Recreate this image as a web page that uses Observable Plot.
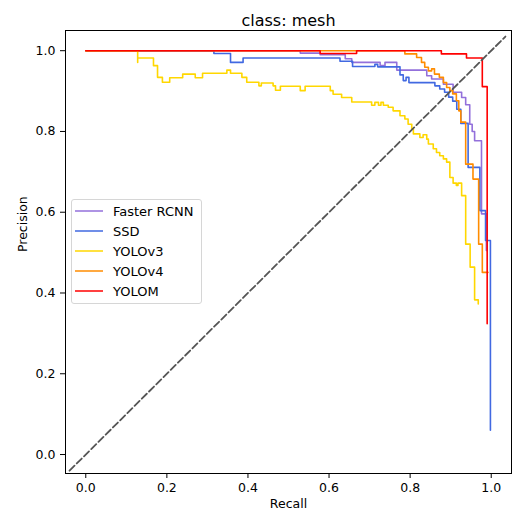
<!DOCTYPE html>
<html><head><meta charset="utf-8">
<script src="https://cdn.jsdelivr.net/npm/d3@7"></script>
<script src="https://cdn.jsdelivr.net/npm/@observablehq/plot@0.6"></script>
<style>
body{margin:0;background:#fff;}
#wrap{position:relative;width:512px;height:515px;font-family:"DejaVu Sans",sans-serif;}
#legend{position:absolute;left:71px;top:199px;width:131px;height:105px;border:1px solid #d6d6d6;border-radius:3px;background:rgba(255,255,255,0.8);box-sizing:border-box;padding-top:1px;}
.row{height:20px;display:flex;align-items:center;font-size:13px;color:#000;white-space:nowrap;}
.row svg{margin-left:3px;margin-right:10px;}
</style></head>
<body><div id="wrap"></div>
<script>
const names = ["Faster RCNN","SSD","YOLOv3","YOLOv4","YOLOM"];
const colors = ["#9370DB","#4169E1","#FFD700","#FF8C00","#FF0000"];
const xTicks = [0,0.2,0.4,0.6,0.8,1.0];
const yTicks = [0,0.2,0.4,0.6,0.8,1.0];
const diag = [-0.04, 1.035];

const fasterRcnn = [[0,1],[0.529,0.994],[0.578,0.99],[0.64,0.98],[0.656,0.971],[0.726,0.963],[0.738,0.971],[0.767,0.952],[0.841,0.938],[0.853,0.93],[0.882,0.917],[0.906,0.897],[0.927,0.884],[0.937,0.866],[0.947,0.818],[0.953,0.80],[0.959,0.777],[0.976,0.596],[0.988,0.505]];
const ssd = [[0,1],[0.316,0.993],[0.357,0.971],[0.388,0.982],[0.627,0.974],[0.658,0.961],[0.713,0.966],[0.72,0.96],[0.775,0.94],[0.783,0.926],[0.79,0.934],[0.797,0.921],[0.861,0.913],[0.873,0.905],[0.885,0.897],[0.895,0.885],[0.905,0.875],[0.915,0.855],[0.925,0.82],[0.943,0.773],[0.943,0.711],[0.972,0.604],[0.986,0.53],[0.998,0.06]];
const yolov3 = [[0,1],[0.128,0.971],[0.128,0.982],[0.167,0.963],[0.177,0.934],[0.189,0.922],[0.207,0.933],[0.239,0.942],[0.27,0.933],[0.288,0.944],[0.348,0.952],[0.357,0.944],[0.385,0.934],[0.397,0.922],[0.427,0.913],[0.433,0.92],[0.462,0.913],[0.468,0.902],[0.48,0.912],[0.529,0.901],[0.541,0.912],[0.603,0.901],[0.61,0.892],[0.631,0.884],[0.656,0.873],[0.705,0.865],[0.713,0.872],[0.722,0.865],[0.728,0.872],[0.734,0.865],[0.746,0.86],[0.758,0.851],[0.775,0.839],[0.787,0.831],[0.795,0.818],[0.804,0.806],[0.808,0.794],[0.824,0.785],[0.832,0.792],[0.841,0.781],[0.845,0.769],[0.857,0.757],[0.865,0.748],[0.873,0.74],[0.882,0.732],[0.89,0.724],[0.898,0.686],[0.906,0.672],[0.914,0.666],[0.918,0.672],[0.927,0.641],[0.937,0.521],[0.948,0.464],[0.959,0.383],[0.968,0.373]];
const yolov4 = [[0,1],[0.787,0.992],[0.816,0.983],[0.828,0.971],[0.836,0.959],[0.845,0.95],[0.853,0.955],[0.86,0.942],[0.872,0.934],[0.882,0.921],[0.89,0.909],[0.898,0.901],[0.905,0.893],[0.914,0.876],[0.92,0.851],[0.925,0.823],[0.937,0.719],[0.955,0.682],[0.969,0.521],[0.978,0.451],[0.992,0.451]];
const yolom = [[0,1],[0.578,0.993],[0.668,1.0],[0.877,0.992],[0.939,0.982],[0.978,0.911],[0.99,0.324]];

const seriesList = [fasterRcnn, ssd, yolov3, yolov4, yolom];
const rows = seriesList.flatMap((s, i) => s.map(([r, p]) => ({name: names[i], r, p})));

const chart = Plot.plot({
  width: 512, height: 515,
  marginTop: 30, marginBottom: 42, marginLeft: 65, marginRight: 1,
  style: {fontFamily: "DejaVu Sans", fontSize: "12.5px", color: "#000", background: "white", overflow: "visible"},
  x: {domain: [-0.05, 1.05], ticks: xTicks, tickFormat: ".1f", tickSize: 5, tickPadding: 5, label: null},
  y: {domain: [-0.047, 1.05], ticks: yTicks, tickFormat: ".1f", tickSize: 5, tickPadding: 5, label: null},
  color: {domain: names, range: colors},
  marks: [
    Plot.line(rows, {x: "r", y: "p", z: "name", stroke: "name", curve: "step-after", strokeWidth: 1.6}),
    Plot.line(diag, {x: d => d, y: d => d, stroke: "#555", strokeWidth: 1.8, strokeDasharray: "7,3.2"}),
    Plot.frame({stroke: "#000", strokeWidth: 1}),
    Plot.text(["class: mesh"], {text: d => d, frameAnchor: "top", dy: -16, fontSize: 16}),
    Plot.text(["Recall"], {text: d => d, frameAnchor: "bottom", dy: 34, fontSize: 12.5}),
    Plot.text(["Precision"], {text: d => d, frameAnchor: "left", dx: -43, rotate: -90, fontSize: 12.5})
  ]
});

const wrap = document.getElementById("wrap");
wrap.appendChild(chart);
const legend = document.createElement("div");
legend.id = "legend";
names.forEach((n, i) => {
  const row = document.createElement("div");
  row.className = "row";
  row.innerHTML = `<svg width="28" height="4"><line x1="0" x2="28" y1="2" y2="2" stroke="${colors[i]}" stroke-width="1.5"/></svg><span>${n}</span>`;
  legend.appendChild(row);
});
wrap.appendChild(legend);
</script></body></html>
